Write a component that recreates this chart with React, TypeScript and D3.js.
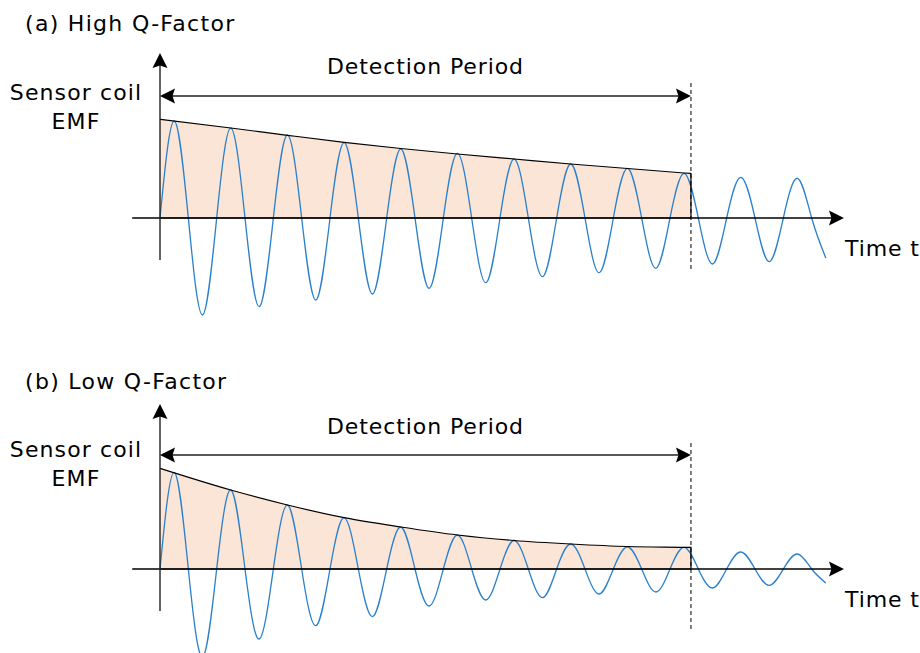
import * as d3 from 'd3'

// sample times (quarter periods) of the coil EMF oscillation
const waveT = [
  0, 0.25, 0.5, 0.75, 1, 1.25, 1.5, 1.75, 2, 2.25, 2.5, 2.75,
  3, 3.25, 3.5, 3.75, 4, 4.25, 4.5, 4.75, 5, 5.25, 5.5, 5.75,
  6, 6.25, 6.5, 6.75, 7, 7.25, 7.5, 7.75, 8, 8.25, 8.5, 8.75,
  9, 9.25, 9.5, 9.75, 10, 10.25, 10.5, 10.75, 11, 11.25, 11.5, 11.75,
]

const waveHigh = [
  0, 0.97, 0, -0.97, 0, 0.9, 0, -0.887, 0, 0.83, 0, -0.82,
  0, 0.753, 0, -0.76, 0, 0.69, 0, -0.703, 0, 0.647, 0, -0.647,
  0, 0.59, 0, -0.587, 0, 0.54, 0, -0.547, 0, 0.497, 0, -0.503,
  0, 0.447, 0, -0.46, 0, 0.407, 0, -0.437, 0, 0.397, 0, -0.4,
]

const waveLow = [
  0, 0.967, 0, -0.88, 0, 0.79, 0, -0.7, 0, 0.64, 0, -0.567,
  0, 0.513, 0, -0.477, 0, 0.42, 0, -0.37, 0, 0.34, 0, -0.31,
  0, 0.285, 0, -0.287, 0, 0.25, 0, -0.25, 0, 0.22, 0, -0.23,
  0, 0.217, 0, -0.19, 0, 0.17, 0, -0.163, 0, 0.15, 0, -0.14,
]

// envelope (shaded region) over the detection period
const envT = [0, 1.25, 2.25, 3.25, 4.25, 5.25, 6.25, 7.25, 8.25, 9.25, 9.37]
const envHigh = [0.987, 0.9, 0.827, 0.757, 0.695, 0.64, 0.59, 0.54, 0.495, 0.45, 0.445]
const envLow = [1.007, 0.79, 0.64, 0.513, 0.42, 0.34, 0.285, 0.25, 0.225, 0.217, 0.216]

const detectEnd = 9.37
const xAxisExtent = [-0.49, 12.07]
const yAxisExtent = [-0.42, 1.65]

const W = 920
const H = 653
const FONT = '"DejaVu Sans", Verdana, sans-serif'
const FS = 22
const BLUE = '#2a80cc'
const FILL = '#fbe5d6'

const x = d3.scaleLinear().domain([0, 12]).range([160, 840])

type Pt = [number, number]

function Head({ tip, angle }: { tip: Pt; angle: number }) {
  // arrow head pointing along angle (deg), tip at given point
  return (
    <path
      d="M0,0 L-15,-7.5 L-12.5,0 L-15,7.5 Z"
      transform={`translate(${tip[0]},${tip[1]}) rotate(${angle})`}
      fill="#000"
    />
  )
}

interface PanelProps {
  title: string
  base: number
  wave: number[]
  env: number[]
  titleY: number
  coilY: number
  emfY: number
  labelY: number
  spanV: number
  dash: [number, number]
  timeY: number
}

function Panel({ title, base, wave, env, titleY, coilY, emfY, labelY, spanV, dash, timeY }: PanelProps) {
  const y = d3.scaleLinear().domain([-1, 1]).range([base + 100, base - 100])

  const envPts: Pt[] = envT.map((t, i) => [t, env[i]])
  const wavePts: Pt[] = waveT.map((t, i) => [t, wave[i]])

  const area = d3.area<Pt>().x(d => x(d[0])).y0(y(0)).y1(d => y(d[1])).curve(d3.curveMonotoneX)
  const envLine = d3.line<Pt>().x(d => x(d[0])).y(d => y(d[1])).curve(d3.curveMonotoneX)
  const waveLine = d3.line<Pt>().x(d => x(d[0])).y(d => y(d[1])).curve(d3.curveNatural)

  const outline = `${envLine(envPts)}L${x(detectEnd)},${y(0)}L${x(0)},${y(0)}`

  const xa0 = x(xAxisExtent[0]), xa1 = x(xAxisExtent[1])
  const ya0 = y(yAxisExtent[0]), ya1 = y(yAxisExtent[1])
  const sy = y(spanV)

  const txt = { fontSize: FS, fontFamily: FONT, fill: '#000', letterSpacing: 0.9 }

  return (
    <g>
      <text x={25} y={titleY} {...txt} letterSpacing={1.3}>{title}</text>

      <path d={area(envPts) ?? ''} fill={FILL} />
      <path d={waveLine(wavePts) ?? ''} fill="none" stroke={BLUE} strokeWidth={1.3} />
      <path d={outline} fill="none" stroke="#000" strokeWidth={1.2} />

      {/* axes */}
      <line x1={xa0} x2={xa1 - 12} y1={y(0)} y2={y(0)} stroke="#000" strokeWidth={1.6} />
      <Head tip={[xa1, y(0)]} angle={0} />
      <line x1={x(0)} x2={x(0)} y1={ya0} y2={ya1 + 12} stroke="#222" strokeWidth={1.4} />
      <Head tip={[x(0), ya1]} angle={-90} />

      {/* detection period */}
      <line x1={x(detectEnd)} x2={x(detectEnd)} y1={y(dash[0])} y2={y(dash[1])}
        stroke="#000" strokeWidth={1} strokeDasharray="4,3" />
      <line x1={x(0) + 12} x2={x(detectEnd) - 12} y1={sy} y2={sy} stroke="#222" strokeWidth={1.4} />
      <Head tip={[x(0), sy]} angle={180} />
      <Head tip={[x(detectEnd), sy]} angle={0} />
      <text x={(x(0) + x(detectEnd)) / 2} y={labelY} textAnchor="middle" {...txt}>
        Detection Period
      </text>

      <text x={76} y={coilY} textAnchor="middle" {...txt} letterSpacing={1.1}>Sensor coil</text>
      <text x={76} y={emfY} textAnchor="middle" {...txt} letterSpacing={1.1}>EMF</text>
      <text x={845} y={timeY} {...txt}>Time t</text>
    </g>
  )
}

export default function App() {
  return (
    <svg
      width={W}
      height={H}
      viewBox={`0 0 ${W} ${H}`}
      style={{ position: 'absolute', left: 0, top: 0, background: '#fff', overflow: 'hidden' }}
    >
      <rect width={W} height={H} fill="#fff" />
      <Panel title="(a) High Q-Factor" base={218} wave={waveHigh} env={envHigh}
        titleY={30.5} coilY={100} emfY={128.5} labelY={73.5} spanV={1.22} dash={[1.35, -0.54]} timeY={255.5} />
      <Panel title="(b) Low Q-Factor" base={569} wave={waveLow} env={envLow}
        titleY={389} coilY={456.5} emfY={486} labelY={433.5} spanV={1.14} dash={[1.26, -0.63]} timeY={606.5} />
    </svg>
  )
}
